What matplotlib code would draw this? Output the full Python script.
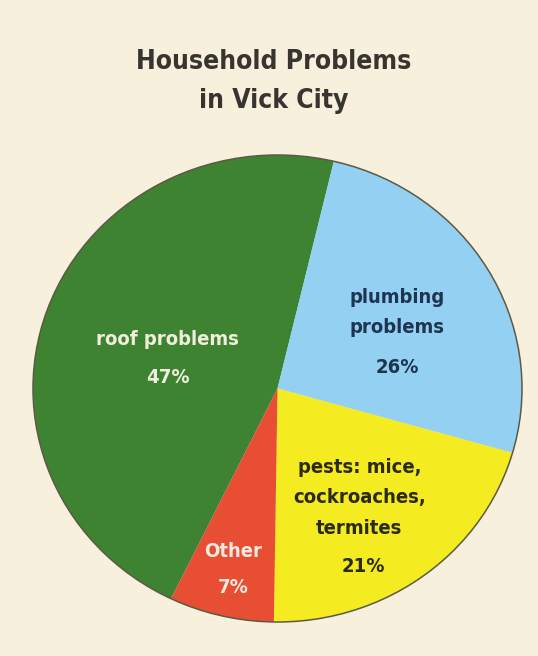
import matplotlib.pyplot as plt
from matplotlib.patches import Ellipse

# data
categories = ["roof problems", "plumbing\nproblems", "pests: mice,\ncockroaches,\ntermites", "Other"]
shares = [47, 26, 21, 7]
colors = ["#3d8331", "#93d0f2", "#f4eb20", "#e74e34"]
text_colors = ["#f1eedb", "#1f3450", "#2b2a12", "#f3e9df"]
# label centres in pie units: name block, then percentage
name_pos = [(-0.45, 0.208), (0.489, 0.325), (0.335, -0.468), (-0.182, -0.70)]
pct_pos = [(-0.45, 0.045), (0.489, 0.092), (0.35, -0.764), (-0.182, -0.854)]

BG = "#f6f0dc"
FONT = dict(family="DejaVu Sans", fontstretch="condensed", fontweight="bold")

fig = plt.figure(figsize=(5.38, 6.56), dpi=100)
fig.patch.set_facecolor(BG)

# pie area spans pixels x 33-522, y 155-622 (slightly oval in the scan)
ax = fig.add_axes([33 / 538, (656 - 622) / 656, 489 / 538, 467 / 656])
ax.set_facecolor(BG)

wedges, _ = ax.pie(shares, colors=colors, startangle=244.2, counterclock=False,
                   radius=1.0, wedgeprops=dict(linewidth=0))
for w in wedges:
    w.set_clip_on(False)
ax.add_patch(Ellipse((0, 0), 2, 2, fill=False, edgecolor="#5c5a44",
                     linewidth=1.1, clip_on=False))
ax.set_aspect("auto")
ax.set_xlim(-1.0, 1.0)
ax.set_ylim(-1.0, 1.0)
ax.axis("off")

for name, val, npos, ppos, tc in zip(categories, shares, name_pos, pct_pos, text_colors):
    ax.text(npos[0], npos[1], name, ha="center", va="center", color=tc,
            fontsize=14.5, linespacing=1.75, **FONT)
    ax.text(ppos[0], ppos[1], f"{val}%", ha="center", va="center", color=tc,
            fontsize=14.5, **FONT)

fig.text(0.508, 0.8765, "Household Problems\nin Vick City", ha="center", va="center",
         color="#38342f", fontsize=19, linespacing=1.65, **FONT)

fig.savefig("out.png", dpi=100, facecolor=BG)
